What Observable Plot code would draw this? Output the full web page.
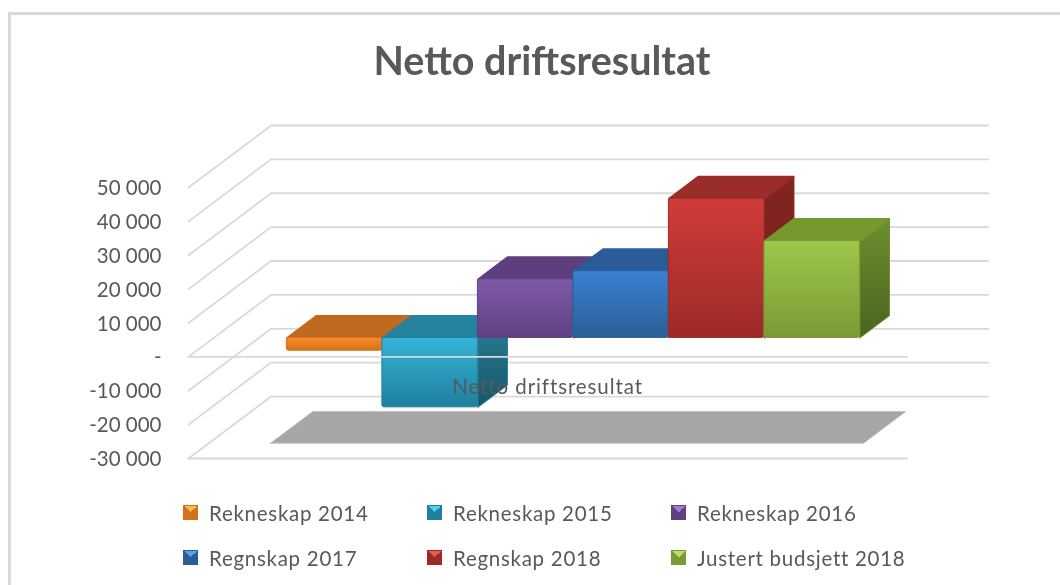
<!DOCTYPE html>
<html>
<head>
<meta charset="utf-8">
<script src="https://cdn.jsdelivr.net/npm/d3@7"></script>
<script src="https://cdn.jsdelivr.net/npm/@observablehq/plot@0.6"></script>
<style>
html,body{margin:0;padding:0;background:#fff;overflow:hidden}
#page{position:relative;width:1060px;height:585px;overflow:hidden;font-family:Lato,sans-serif;color:#595959;filter:blur(0.4px)}
#frame{position:absolute;left:8px;top:12px;width:1060px;height:600px;border-left:3px solid #d9d9d9;border-top:3px solid #d9d9d9;box-sizing:border-box;pointer-events:none}
#title{position:absolute;left:0;top:0;width:1084px;height:100px;line-height:120px;text-align:center;font-size:39.5px;font-weight:700;white-space:nowrap}
#chart{position:absolute;left:0;top:100px}
#legend{position:absolute;left:0;top:490px;width:1060px;height:95px}
.item{position:absolute;font-size:20.5px;line-height:24px;white-space:nowrap;letter-spacing:0.72px}
.swatch{position:absolute;left:-26px;top:4px;width:15px;height:15px}
#chart g[aria-label="text"] text{letter-spacing:0.9px}
</style>
</head>
<body>
<div id="page">
  <div id="frame"></div>
  <div id="title"></div>
  <div id="chart"></div>
  <div id="legend"></div>
</div>
<script>
const chartTitle = "Netto driftsresultat";
const categoryLabel = "Netto driftsresultat";
const seriesNames = ["Rekneskap 2014","Rekneskap 2015","Rekneskap 2016","Regnskap 2017","Regnskap 2018","Justert budsjett 2018"];
const seriesValues = [-3800,-20500,17300,19700,41100,28600];
const yTicks = [50000,40000,30000,20000,10000,0,-10000,-20000,-30000];
const frontGridTicks = [0,-30000];
// colours per series: front top, front bottom, top face, side top, side bottom, swatch light
const frontTop    = ["#fb8c26","#35b5d8","#8059aa","#3a80d2","#d03c39","#9dc849"];
const frontBottom = ["#d2721a","#1f7f9e","#5f4080","#2a5f96","#9c2a27","#7a9a36"];
const topFace     = ["#bf6a1e","#26839e","#5c3f7c","#2a5c9a","#9a2c29","#76992f"];
const sideTop     = ["#b0601a","#2a7f99","#54397a","#285a94","#85251f","#6c8f2d"];
const sideBottom  = ["#8f4d14","#175668","#45305f","#1f4570","#6f1e1b","#4a6420"];
const swatchLight = ["#fdb94a","#4cd0ea","#a27ccb","#5fa0e6","#ea5a56","#b8e060"];

// depth projection: z=0 is the front wall plane, z=1 the back wall
const dxPerZ = 0.864, dyPerZ = 18290;
const wallFront = 7.525, wallBack = 7.51;
const firstBar = 0.766, barZ0 = 0.306, barZ1 = 0.664;
const shadowX0 = 0.645, shadowX1 = 6.856, shadowZ0 = 0.247, shadowZ1 = 0.758;
const floorValue = -30000;
const P = (s, v, z) => ({x: s + z * dxPerZ, y: v + z * dyPerZ});

const fmt = v => v === 0 ? "-" : (v < 0 ? "-" : "") + d3.format(",")(Math.abs(v)).replace(",", "\u00a0");

const defs = () => {
  const d = d3.create("svg:defs");
  const grad = (id, a, b) => {
    const g = d.append("linearGradient").attr("id", id).attr("x1",0).attr("x2",0).attr("y1",0).attr("y2",1);
    g.append("stop").attr("offset","0%").attr("stop-color",a);
    g.append("stop").attr("offset","100%").attr("stop-color",b);
  };
  seriesNames.forEach((_, i) => {
    grad("front"+i, frontTop[i], frontBottom[i]);
    grad("side"+i, sideTop[i], sideBottom[i]);
  });
  return d.node();
};

const gridColor = "#d9d9d9";
const gridMarks = yTicks.map(v => Plot.line(
  [P(0,v,0), P(0,v,1), P(wallBack,v,1)], {x:"x", y:"y", stroke:gridColor, strokeWidth:1.8}));
const frontMarks = frontGridTicks.map(v => Plot.line(
  [P(0,v,0), P(wallFront,v,0)], {x:"x", y:"y", stroke:gridColor, strokeWidth:1.8}));

const shadow = Plot.line(
  [P(shadowX0,floorValue,shadowZ0), P(shadowX1,floorValue,shadowZ0), P(shadowX1,floorValue,shadowZ1), P(shadowX0,floorValue,shadowZ1), P(shadowX0,floorValue,shadowZ0)],
  {x:"x", y:"y", fill:"#a6a6a6", stroke:"#c4c4c4", strokeWidth:1});

const barMarks = seriesValues.flatMap((v, i) => {
  const s0 = firstBar + i, s1 = s0 + 1;
  const hi = Math.max(v, 0), lo = Math.min(v, 0);
  const side = [P(s1,lo,barZ0), P(s1,hi,barZ0), P(s1,hi,barZ1), P(s1,lo,barZ1), P(s1,lo,barZ0)];
  const top = [P(s0,hi,barZ0), P(s1,hi,barZ0), P(s1,hi,barZ1), P(s0,hi,barZ1), P(s0,hi,barZ0)];
  const a = P(s0,lo,barZ0), b = P(s1,hi,barZ0);
  return [
    Plot.line(side, {x:"x", y:"y", fill:`url(#side${i})`, stroke:sideTop[i], strokeWidth:1}),
    Plot.line(top, {x:"x", y:"y", fill:topFace[i], stroke:topFace[i], strokeWidth:1.5}),
    Plot.rect([{x1:a.x, x2:b.x, y1:a.y, y2:b.y}], {x1:"x1", x2:"x2", y1:"y1", y2:"y2", fill:`url(#front${i})`, stroke:frontBottom[i], strokeWidth:1, rx:2})
  ];
});

const plot = Plot.plot({
  width:1060, height:390,
  marginLeft:188, marginRight:72, marginTop:25, marginBottom:32,
  x:{domain:[0,8.377], axis:null},
  y:{domain:[-30000,68290]},
  style:{fontFamily:"Lato, sans-serif", background:"transparent", color:"#595959"},
  marks:[
    defs,
    ...gridMarks,
    frontMarks[1],
    shadow,
    ...barMarks,
    frontMarks[0],
    Plot.axisY({ticks:yTicks, tickSize:0, tickPadding:27, tickFormat:fmt, fontSize:20.5, label:null, dy:1, fill:"#595959"}),
    Plot.text([categoryLabel], {x:3.76, y:-9100, text:d=>d, fontSize:20.5, fill:"#595959", textAnchor:"middle"})
  ]
});
document.getElementById("chart").appendChild(plot);
document.getElementById("title").textContent = chartTitle;

const lg = document.getElementById("legend");
const colX = [209,453,697], rowY = [11,56];
seriesNames.forEach((name,i) => {
  const it = document.createElement("div");
  it.className = "item";
  it.style.left = colX[i%3]+"px";
  it.style.top = rowY[Math.floor(i/3)]+"px";
  it.textContent = name;
  const sw = document.createElement("span");
  sw.className = "swatch";
  sw.style.background = `conic-gradient(from -45deg, ${swatchLight[i]} 0 25%, ${frontBottom[i]} 25% 100%)`;
  sw.style.boxSizing = "border-box";
  sw.style.border = `1.5px solid ${frontBottom[i]}`;
  it.appendChild(sw);
  lg.appendChild(it);
});
</script>
</body>
</html>
